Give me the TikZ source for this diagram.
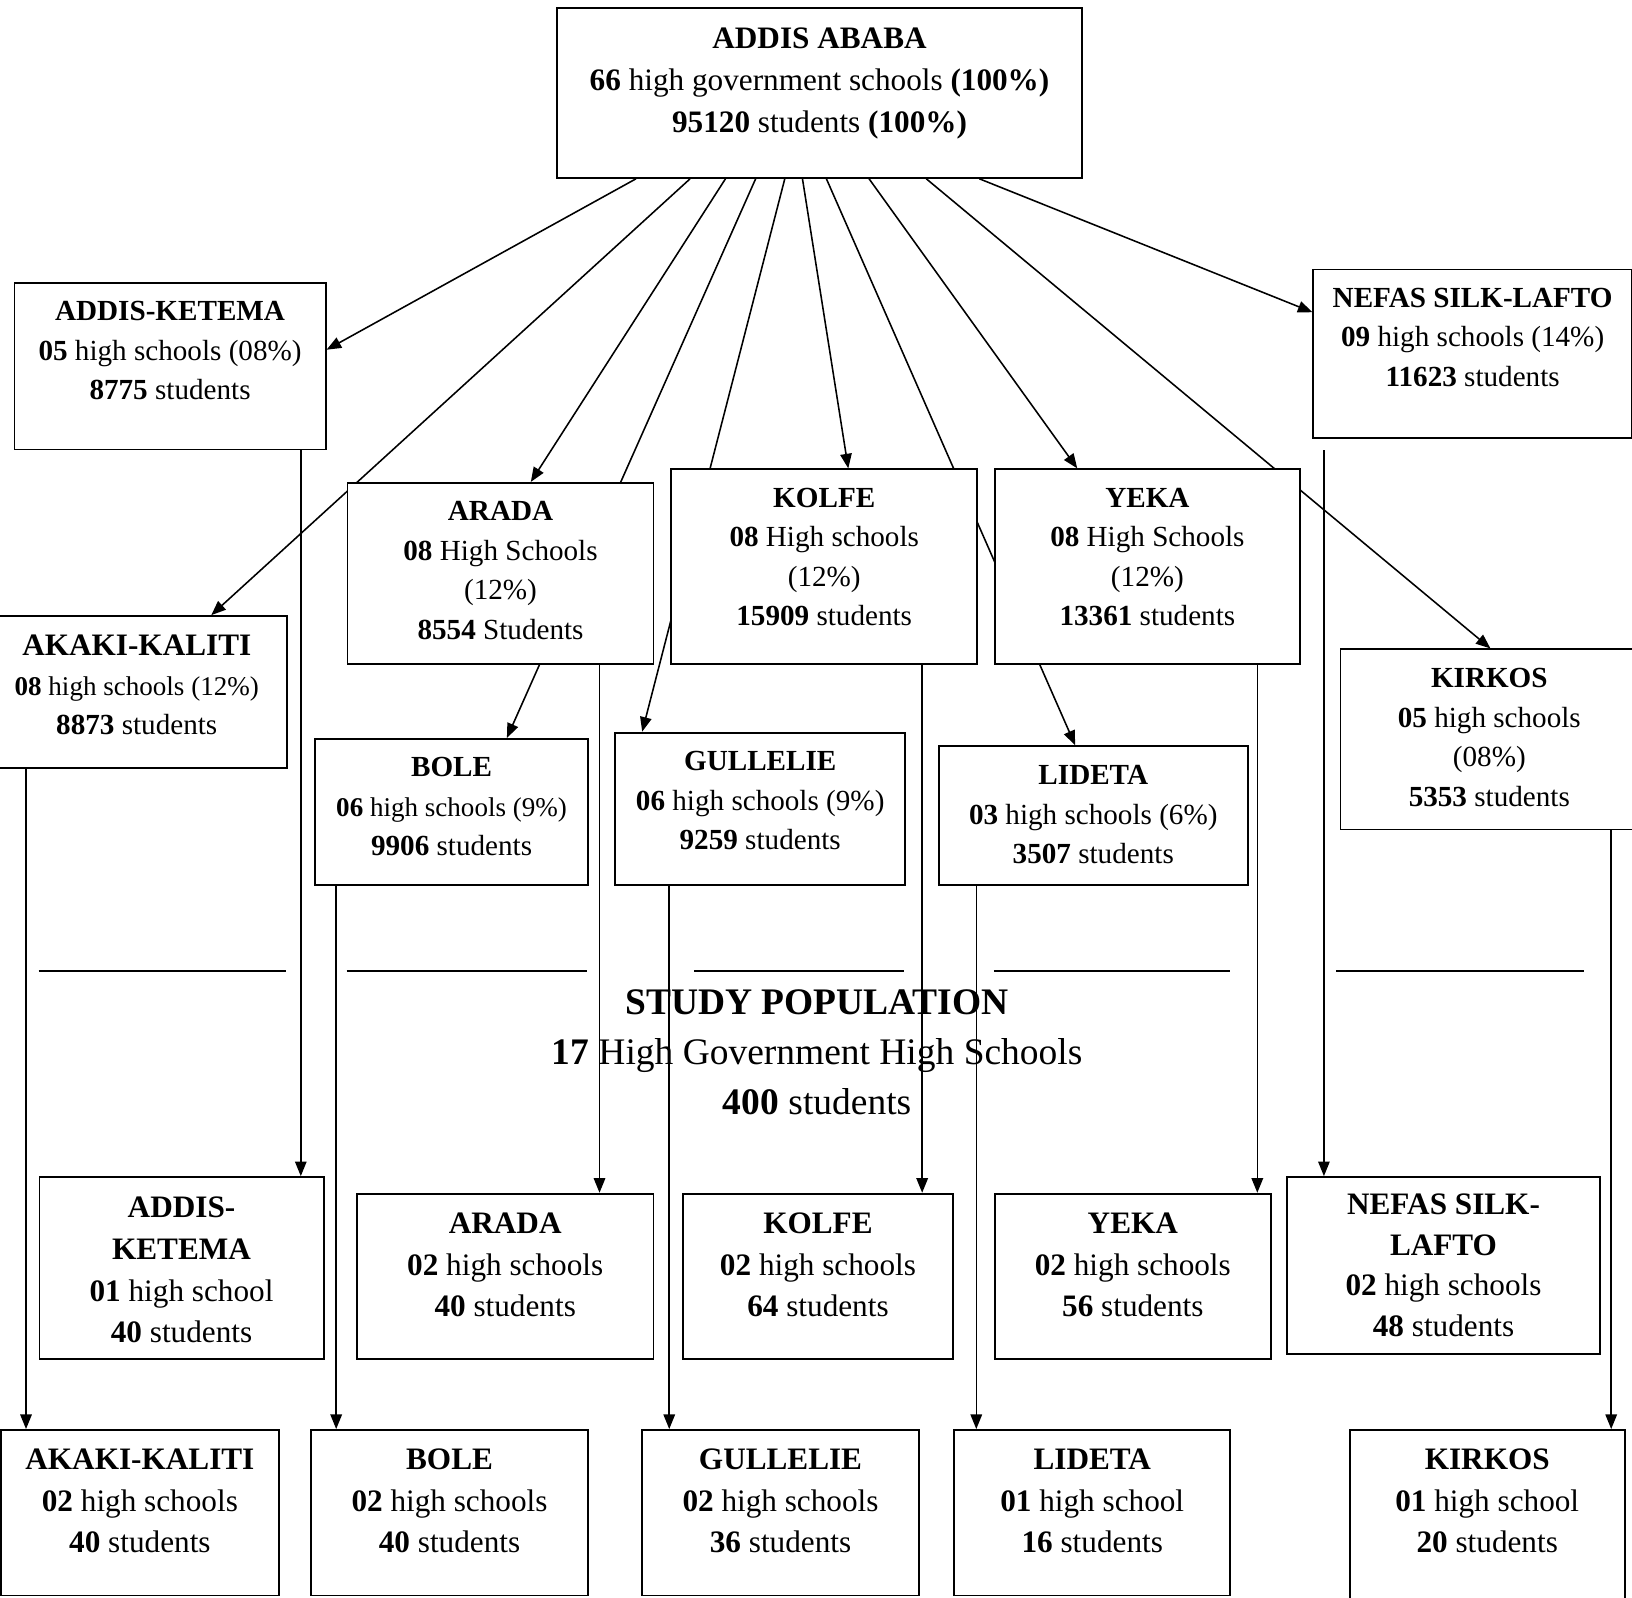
\documentclass[tikz,border=0pt]{standalone}
\usepackage{fontspec}
\setmainfont{Liberation Serif}
\usetikzlibrary{arrows.meta,backgrounds}
\newcommand{\smline}{\fontsize{26}{38}\selectfont}

\begin{document}
\begin{tikzpicture}[x=1pt,y=-1pt,
	    distbox/.style={draw=black, fill=white, line width=1.8pt, inner sep=0pt, anchor=north west},
	    link/.style={draw=black, line width=1.5pt, -{Triangle[length=14pt,width=11pt]}},
	    bigtxt/.style={font=\fontsize{30}{40}\selectfont, align=center, anchor=north, inner sep=0pt},
	    midtxt/.style={font=\fontsize{28}{38}\selectfont, align=center, anchor=north, inner sep=0pt}]
	    \useasboundingbox (0,0) rectangle (1568,1535);

	    \node[distbox, minimum width=505pt, minimum height=163pt, label={[bigtxt, yshift=-20pt, name=aa-t]north:{\textbf{ADDIS ABABA}\\\textbf{66} high government schools \textbf{(100\%)}\\\textbf{95120} students \textbf{(100\%)}}}] (aa) at (534,7) {};

	    \node[distbox, minimum width=299pt, minimum height=160pt, label={[midtxt, yshift=-18.5pt, name=ak1-t]north:{\textbf{ADDIS-KETEMA}\\\textbf{05} high schools (08\%)\\\textbf{8775} students}}] (ak1) at (13,271) {};
	    \node[distbox, minimum width=306pt, minimum height=162pt, label={[midtxt, yshift=-18.5pt, name=ns1-t]north:{\textbf{NEFAS SILK-LAFTO}\\\textbf{09} high schools (14\%)\\\textbf{11623} students}}] (ns1) at (1261,258) {};
	    \node[distbox, minimum width=294pt, minimum height=174pt, label={[midtxt, yshift=-18.5pt, name=ar2-t]north:{\textbf{ARADA}\\\textbf{08} High Schools\\(12\%)\\\textbf{8554} Students}}] (ar2) at (333,463) {};
	    \node[distbox, minimum width=294pt, minimum height=187pt, label={[midtxt, yshift=-18.5pt, name=ko2-t]north:{\textbf{KOLFE}\\\textbf{08} High schools\\(12\%)\\\textbf{15909} students}}] (ko2) at (644,450) {};
	    \node[distbox, minimum width=293pt, minimum height=187pt, label={[midtxt, yshift=-18.5pt, name=ye2-t]north:{\textbf{YEKA}\\\textbf{08} High Schools\\(12\%)\\\textbf{13361} students}}] (ye2) at (955,450) {};
	    \node[distbox, minimum width=289pt, minimum height=146pt, label={[midtxt, yshift=-19pt, name=aka1-t]north:{{\fontsize{30}{38}\selectfont\textbf{AKAKI-KALITI}}\\{\smline\textbf{08} high schools (12\%)}\\\textbf{8873} students}}] (aka1) at (-14,591) {};
	    \node[distbox, minimum width=262pt, minimum height=140pt, label={[midtxt, yshift=-18.5pt, name=bo2-t]north:{\textbf{BOLE}\\{\smline\textbf{06} high schools (9\%)}\\\textbf{9906} students}}] (bo2) at (302,709) {};
	    \node[distbox, minimum width=279pt, minimum height=146pt, label={[midtxt, yshift=-18.5pt, name=gu2-t]north:{\textbf{GULLELIE}\\\textbf{06} high schools (9\%)\\\textbf{9259} students}}] (gu2) at (590,703) {};
	    \node[distbox, minimum width=297pt, minimum height=133pt, label={[midtxt, yshift=-19pt, name=li2-t]north:{\textbf{LIDETA}\\\textbf{03} high schools (6\%)\\\textbf{3507} students}}] (li2) at (901,716) {};
	    \node[distbox, minimum width=286pt, minimum height=173pt, label={[midtxt, yshift=-19pt, name=ki2-t]north:{\textbf{KIRKOS}\\\textbf{05} high schools\\(08\%)\\\textbf{5353} students}}] (ki2) at (1287,623) {};

	    \node[font=\fontsize{36}{48}\selectfont, align=center, inner sep=0pt] (study) at (785,1011) {\textbf{STUDY POPULATION}\\\textbf{17} High Government High Schools\\\textbf{400} students};

	    \node[distbox, minimum width=273pt, minimum height=175pt, label={[bigtxt, yshift=-20pt, name=ak3-t]north:{\textbf{ADDIS-}\\\textbf{KETEMA}\\\textbf{01} high school\\\textbf{40} students}}] (ak3) at (37,1130) {};
	    \node[distbox, minimum width=285pt, minimum height=159pt, label={[bigtxt, yshift=-19pt, name=ar3-t]north:{\textbf{ARADA}\\\textbf{02} high schools\\\textbf{40} students}}] (ar3) at (342,1146) {};
	    \node[distbox, minimum width=260pt, minimum height=159pt, label={[bigtxt, yshift=-19pt, name=ko3-t]north:{\textbf{KOLFE}\\\textbf{02} high schools\\\textbf{64} students}}] (ko3) at (655,1146) {};
	    \node[distbox, minimum width=265pt, minimum height=159pt, label={[bigtxt, yshift=-19pt, name=ye3-t]north:{\textbf{YEKA}\\\textbf{02} high schools\\\textbf{56} students}}] (ye3) at (955,1146) {};
	    \node[distbox, minimum width=300pt, minimum height=170pt, label={[bigtxt, font=\fontsize{30}{39}\selectfont, yshift=-17pt, name=ns3-t]north:{\textbf{NEFAS SILK-}\\\textbf{LAFTO}\\\textbf{02} high schools\\\textbf{48} students}}] (ns3) at (1236,1130) {};

	    \node[distbox, minimum width=267pt, minimum height=159pt, label={[bigtxt, yshift=-19pt, name=aka4-t]north:{\textbf{AKAKI-KALITI}\\\textbf{02} high schools\\\textbf{40} students}}] (aka4) at (0,1373) {};
	    \node[distbox, minimum width=266pt, minimum height=159pt, label={[bigtxt, yshift=-19pt, name=bo4-t]north:{\textbf{BOLE}\\\textbf{02} high schools\\\textbf{40} students}}] (bo4) at (298,1373) {};
	    \node[distbox, minimum width=266pt, minimum height=159pt, label={[bigtxt, yshift=-19pt, name=gu4-t]north:{\textbf{GULLELIE}\\\textbf{02} high schools\\\textbf{36} students}}] (gu4) at (616,1373) {};
	    \node[distbox, minimum width=265pt, minimum height=159pt, label={[bigtxt, yshift=-19pt, name=li4-t]north:{\textbf{LIDETA}\\\textbf{01} high school\\\textbf{16} students}}] (li4) at (916,1373) {};
	    \node[distbox, minimum width=264pt, minimum height=172pt, label={[bigtxt, yshift=-19pt, name=ki4-t]north:{\textbf{KIRKOS}\\\textbf{01} high school\\\textbf{20} students}}] (ki4) at (1296,1373) {};

	    \draw[line width=2.2pt] (37,933) -- (275,933);
	    \draw[line width=2.2pt] (333,933) -- (564,933);
	    \draw[line width=2.2pt] (667,933) -- (869,933);
	    \draw[line width=2.2pt] (955,933) -- (1182,933);
	    \draw[line width=2.2pt] (1284,933) -- (1522,933);

	    \begin{scope}[on background layer]
	    \draw[link] ([xshift=77pt]aa.south west) -- ([yshift=-65pt]ak1.north east);
	    \draw[link] ([xshift=129pt]aa.south west) -- ([xshift=217pt]aka1.north west);
	    \draw[link] ([xshift=163pt]aa.south west) -- ([xshift=177pt]ar2.north west);
	    \draw[link] ([xshift=192pt]aa.south west) -- ([xshift=185pt]bo2.north west);
	    \draw[link] ([xshift=220pt]aa.south west) -- ([xshift=27pt]gu2.north west);
	    \draw[link] ([xshift=237pt]aa.south west) -- ([xshift=171pt]ko2.north west);
	    \draw[link] ([xshift=260pt]aa.south west) -- ([xshift=132pt]li2.north west);
	    \draw[link] ([xshift=301pt]aa.south west) -- ([xshift=80pt]ye2.north west);
	    \draw[link] ([xshift=356pt]aa.south west) -- ([xshift=145pt]ki2.north west);
	    \draw[link] ([xshift=407pt]aa.south west) -- ([yshift=-42pt]ns1.north west);

	    \draw[link] ([xshift=276pt]ak1.south west) -- ([xshift=252pt]ak3.north west);
	    \draw[link] ([xshift=39pt]aka1.south west) -- ([xshift=25pt]aka4.north west);
	    \draw[link] ([xshift=21pt]bo2.south west) -- ([xshift=25pt]bo4.north west);
	    \draw[link] ([xshift=243pt]ar2.south west) -- ([xshift=234pt]ar3.north west);
	    \draw[link] ([xshift=53pt]gu2.south west) -- ([xshift=27pt]gu4.north west);
	    \draw[link] ([xshift=242pt]ko2.south west) -- ([xshift=231pt]ko3.north west);
	    \draw[link] ([xshift=37pt]li2.south west) -- ([xshift=22pt]li4.north west);
	    \draw[link] ([xshift=253pt]ye2.south west) -- ([xshift=253pt]ye3.north west);
	    \draw[link] ([xshift=11pt,yshift=-11pt]ns1.south west) -- ([xshift=36pt]ns3.north west);
	    \draw[link] ([xshift=261pt]ki2.south west) -- ([xshift=252pt]ki4.north west);
	    \end{scope}
\end{tikzpicture}
\end{document}
